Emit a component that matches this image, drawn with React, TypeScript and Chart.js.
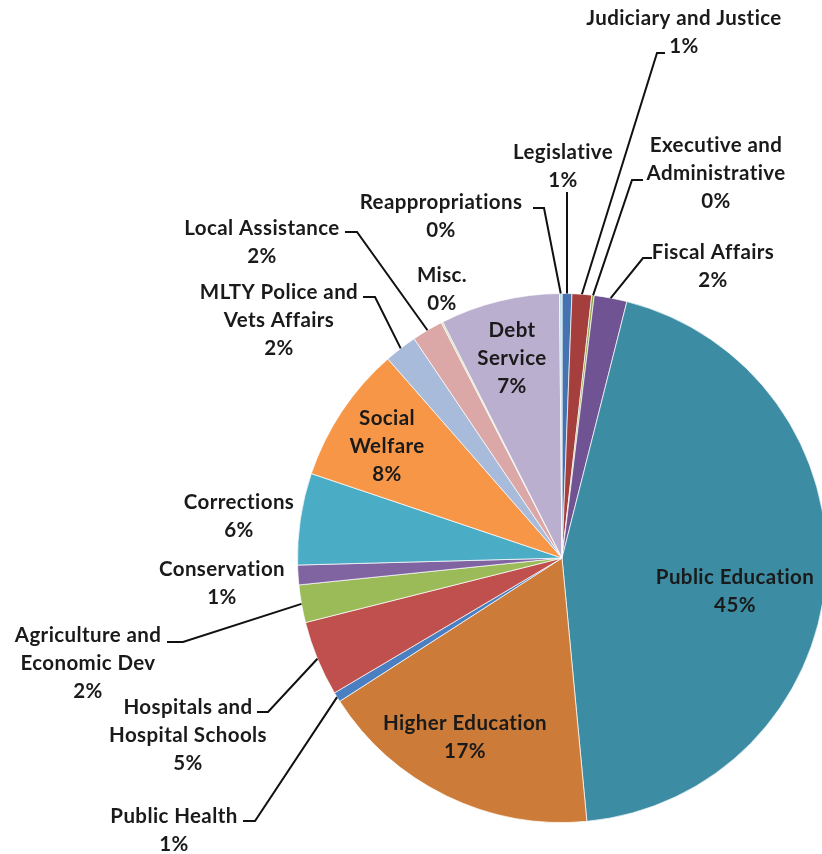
import React, { useEffect, useRef } from "react";
import { Chart, ArcElement, PieController } from "chart.js";

Chart.register(ArcElement, PieController);

// ---- data ----
const categories = [
  "Legislative",
  "Judiciary and Justice",
  "Executive and Administrative",
  "Fiscal Affairs",
  "Public Education",
  "Higher Education",
  "Public Health",
  "Hospitals and Hospital Schools",
  "Agriculture and Economic Dev",
  "Conservation",
  "Corrections",
  "Social Welfare",
  "MLTY Police and Vets Affairs",
  "Local Assistance",
  "Misc.",
  "Debt Service",
  "Reappropriations",
];

const shares = [0.6, 1.2, 0.15, 2.0, 44.6, 17.4, 0.6, 4.6, 2.3, 1.2, 5.6, 8.4, 2.0, 1.9, 0.1, 7.3, 0.15];

const sliceColors = [
  "#4573B0", "#A53F3D", "#8FA846", "#6F5393", "#3C8CA4", "#CC7B38",
  "#4A7FC1", "#C0504D", "#9BBB59", "#8064A2", "#4BACC6", "#F79646",
  "#A9BBDB", "#DBA8A7", "#C9DBA4", "#BAAFCE", "#B7DEE8",
];

// how each category name is broken into lines
const labelLines = [
  ["Legislative"],
  ["Judiciary and Justice"],
  ["Executive and", "Administrative"],
  ["Fiscal Affairs"],
  ["Public Education"],
  ["Higher Education"],
  ["Public Health"],
  ["Hospitals and", "Hospital Schools"],
  ["Agriculture and", "Economic Dev"],
  ["Conservation"],
  ["Corrections"],
  ["Social", "Welfare"],
  ["MLTY Police and", "Vets Affairs"],
  ["Local Assistance"],
  ["Misc."],
  ["Debt", "Service"],
  ["Reappropriations"],
];

// ---- layout (label placement; leader hook = [xStart, xElbow, y]) ----
type LabelPos = { x: number; y: number; hook?: [number, number, number] };
const LABEL_LAYOUT: LabelPos[] = [
  { x: 563, y: 152, hook: [567, 567, 192] },
  { x: 684, y: 18, hook: [665, 657, 53] },
  { x: 716, y: 145, hook: [643, 632, 180] },
  { x: 713, y: 252, hook: [652, 643, 258] },
  { x: 735, y: 577 },
  { x: 465, y: 723 },
  { x: 174, y: 816, hook: [243, 255, 821] },
  { x: 188, y: 707, hook: [257, 268, 712] },
  { x: 88, y: 635, hook: [167, 183, 642] },
  { x: 222, y: 569 },
  { x: 239, y: 502 },
  { x: 387, y: 418 },
  { x: 279, y: 292, hook: [363, 375, 297] },
  { x: 262, y: 228, hook: [345, 357, 232] },
  { x: 442, y: 275 },
  { x: 512, y: 330 },
  { x: 441, y: 202, hook: [533, 544, 208] },
];
const LINE_H = 28;
const FONT = "bold 20.5px Lato";

const labelPlugin = {
  id: "pieLabels",
  afterDatasetsDraw(chart: any) {
    const ctx = chart.ctx as CanvasRenderingContext2D;
    const meta = chart.getDatasetMeta(0);
    const total = shares.reduce((a, b) => a + b, 0);
    ctx.save();
    ctx.font = FONT;
    (ctx as any).letterSpacing = "0.4px";
    ctx.fillStyle = "#1a1a1a";
    ctx.strokeStyle = "#111";
    ctx.lineWidth = 2;
    ctx.textAlign = "center";
    ctx.textBaseline = "middle";
    meta.data.forEach((arc: any, i: number) => {
      const p = LABEL_LAYOUT[i];
      const lines = [...labelLines[i], Math.round((shares[i] / total) * 100) + "%"];
      lines.forEach((t, k) => ctx.fillText(t, p.x, p.y + k * LINE_H));
      if (p.hook) {
        const { x, y, startAngle, endAngle, outerRadius } = arc.getProps(
          ["x", "y", "startAngle", "endAngle", "outerRadius"],
          true
        );
        const mid = (startAngle + endAngle) / 2;
        const ex = x + Math.cos(mid) * outerRadius;
        const ey = y + Math.sin(mid) * outerRadius;
        ctx.beginPath();
        ctx.moveTo(p.hook[0], p.hook[2]);
        ctx.lineTo(p.hook[1], p.hook[2]);
        ctx.lineTo(ex, ey);
        ctx.stroke();
      }
    });
    ctx.restore();
  },
};

export default function App() {
  const ref = useRef<HTMLCanvasElement>(null);
  useEffect(() => {
    if (!ref.current) return;
    const chart = new Chart(ref.current, {
      type: "pie",
      data: {
        labels: categories,
        datasets: [
          {
            data: shares,
            backgroundColor: sliceColors,
            borderColor: "rgba(255,255,255,0.7)",
            borderWidth: 1,
            hoverOffset: 0,
            offset: 0,
          },
        ],
      },
      options: {
        responsive: false,
        animation: false,
        events: [],
        layout: { padding: { left: 297, top: 293, right: 13, bottom: 31 } },
        plugins: { legend: { display: false }, tooltip: { enabled: false } },
      },
      plugins: [labelPlugin],
    });
    return () => chart.destroy();
  }, []);
  return (
    <div
      style={{
        position: "fixed",
        left: 0,
        top: 0,
        width: 822,
        height: 854,
        overflow: "hidden",
        background: "#fff",
      }}
    >
      <canvas ref={ref} width={840} height={854} style={{ display: "block", width: 840, height: 854 }} />
    </div>
  );
}
